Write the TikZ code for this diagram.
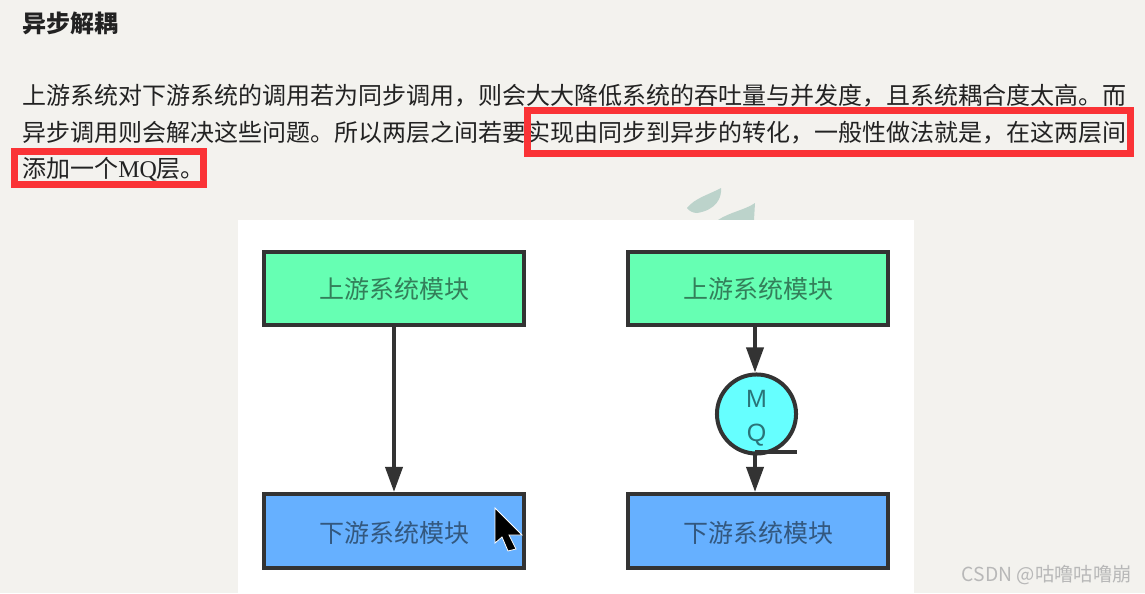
\documentclass[tikz,border=0pt]{standalone}
\usepackage{fontspec}
\setmainfont{Noto Sans CJK SC}
\newfontfamily\latinserif{Liberation Serif}
\newfontfamily\latinsans{Liberation Sans}
\usetikzlibrary{arrows.meta,positioning}
\definecolor{pagebg}{HTML}{F3F2EE}
\definecolor{ink}{HTML}{222222}
\definecolor{edge}{HTML}{333333}
\definecolor{markred}{HTML}{FA3336}
\definecolor{upfill}{HTML}{66FFB3}
\definecolor{downfill}{HTML}{66B0FF}
\definecolor{mqfill}{HTML}{66FFFF}
\definecolor{leaf}{HTML}{BCD3CB}
\definecolor{uptext}{HTML}{337F5A}
\definecolor{downtext}{HTML}{33587F}
\definecolor{mqtext}{HTML}{2A7478}

\begin{document}
\begin{tikzpicture}[
  x=0.75pt, y=-0.75pt,
  para/.style={anchor=base west, inner sep=0pt, text=ink, font=\fontsize{18pt}{18pt}\selectfont},
  heading/.style={para, font=\fontsize{18pt}{18pt}\selectfont\bfseries},
  redbox/.style={draw=markred, line width=5.25pt, inner sep=0pt},
  modbox/.style={draw=edge, line width=2.7pt, minimum width=195.3pt, minimum height=55pt, inner sep=0pt, font=\fontsize{18.75pt}{18.75pt}\selectfont},
  upmod/.style={modbox, fill=upfill, text=uptext},
  downmod/.style={modbox, fill=downfill, text=downtext, minimum height=55.5pt, text height=20pt, text depth=2.3pt},
  queue/.style={circle, draw=edge, line width=3pt, fill=mqfill, minimum size=59.3pt, inner sep=0pt, align=center, text=mqtext, font=\latinsans\fontsize{18.75pt}{25pt}\selectfont},
  arr/.style={-{Triangle[length=18.75pt,width=12.75pt]}, line width=2.8pt, draw=edge}
]

\useasboundingbox (0,0) rectangle (1145,593);
\fill[pagebg] (0,0) rectangle (1145,593);

% watermark leaves behind the panel
\fill[leaf] (687,208) .. controls (695,198) and (708,195) .. (721,188) .. controls (722,198) and (716,210) .. (697,213) .. controls (693,213) and (689,211) .. (687,208) -- cycle;
\fill[leaf] (718,220) .. controls (730,212) and (745,210) .. (755,203) -- (754,220) -- cycle;
\fill[white] (238,220) rectangle (914,593);

% text
\node[heading] (title) at (22,32) {异步解耦};
\node[para] (lineA) at (22,104) {上游系统对下游系统的调用若为同步调用，则会大大降低系统的吞吐量与并发度，且系统耦合度太高。而};
\node[para] (lineB) at (22,141) {异步调用则会解决这些问题。所以两层之间若要实现由同步到异步的转化，一般性做法就是，在这两层间};
\node[para] (lineC) at (22,177) {添加一个{\latinserif MQ}层。};

\node[redbox, minimum width=452.25pt, minimum height=32.25pt] (markA) at (828.5,131.5) {};
\node[redbox, minimum width=141.75pt, minimum height=24.75pt] (markB) at (108.5,168) {};

% left column
\node[upmod] (upL) at (394,288.5) {上游系统模块};
\node[downmod, below=123.75pt of upL] (downL) {下游系统模块};
% right column
\node[upmod, right=75pt of upL] (upR) {上游系统模块};
\node[downmod, below=123.75pt of upR] (downR) {下游系统模块};
\node[queue] (mq) at (756.5,414) {\rule{0pt}{19.5pt}M\\Q};
\coordinate (mqdrop) at (755,452);
\coordinate (mqtail) at (797,452);

\draw[arr] (upL) -- (downL);
\draw[arr] ([xshift=-2.25pt]upR.south) -- ([xshift=-1.125pt]mq.north);
\draw[line width=2.8pt, draw=edge] (mqdrop) -- (mqtail);
\draw[arr] (mqdrop) -- ([xshift=-2.25pt]downR.north);

% pointer
\filldraw[fill=black, draw=white, line width=0.6pt] (495,508) -- (495,543) -- (502,537) -- (508,551) -- (516,549) -- (509,535) -- (522,535) -- cycle;

\node[anchor=base east, inner sep=0pt, text=black!28, font=\fontsize{14.5pt}{14.5pt}\selectfont] (credit) at (1132,581) {CSDN @咕噜咕噜崩};

\end{tikzpicture}
\end{document}
